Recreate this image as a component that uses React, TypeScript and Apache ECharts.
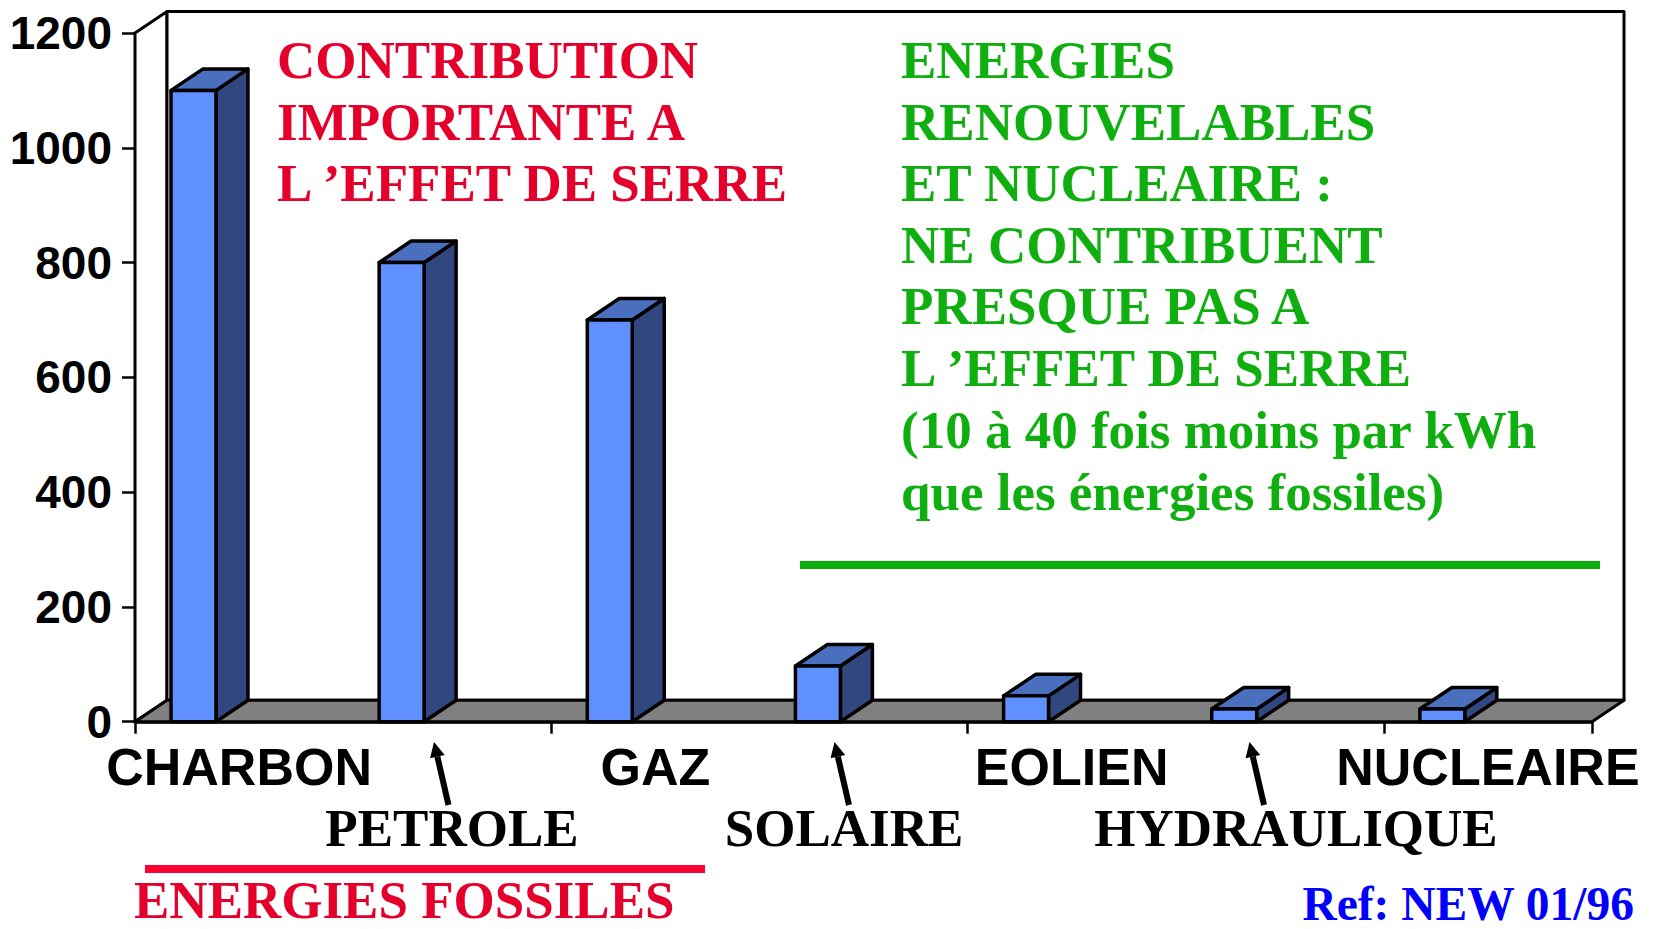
import React, { useEffect, useRef } from "react";
import * as echarts from "echarts";

const categories = ["CHARBON", "PETROLE", "GAZ", "SOLAIRE", "EOLIEN", "HYDRAULIQUE", "NUCLEAIRE"];
const values = [1100, 800, 700, 97, 45, 22, 22];
const redLines = ["CONTRIBUTION", "IMPORTANTE A", "L \u2019EFFET DE SERRE"];
const greenLines = [
  "ENERGIES",
  "RENOUVELABLES",
  "ET NUCLEAIRE :",
  "NE CONTRIBUENT",
  "PRESQUE PAS A",
  "L \u2019EFFET DE SERRE",
  "(10 \u00e0 40 fois moins par kWh",
  "que les \u00e9nergies fossiles)",
];
const greenLineY = [60, 122, 183, 245, 306, 368, 430, 492];
const redLineY = [60, 122, 183];
const lowerLabels = [
  { text: "PETROLE", x: 452 },
  { text: "SOLAIRE", x: 844 },
  { text: "HYDRAULIQUE", x: 1296 },
];
const arrows = [
  [448.5, 805, 434, 742],
  [849, 805, 834.5, 742],
  [1264, 805, 1249.5, 742],
];

const DX = 32;
const DY = -21.5;
const SERIF = '"Liberation Serif", serif';
const BLACK = "#000000";
const TOP_Z = 50;

function arrowShapes(a: number[]) {
  const [x0, y0, x1, y1] = a;
  const len = Math.hypot(x1 - x0, y1 - y0);
  const ux = (x1 - x0) / len;
  const uy = (y1 - y0) / len;
  const hl = 15;
  const hw = 7.5;
  const bx = x1 - ux * hl;
  const by = y1 - uy * hl;
  return [
    { type: "line", z: TOP_Z, shape: { x1: x0, y1: y0, x2: bx, y2: by }, style: { stroke: BLACK, lineWidth: 6 } },
    {
      type: "polygon",
      z: TOP_Z,
      shape: { points: [[x1, y1], [bx - uy * hw, by + ux * hw], [bx + uy * hw, by - ux * hw]] },
      style: { fill: BLACK },
    },
  ];
}

function serifText(text: string, x: number, y: number, size: number, fill: string, align = "left") {
  return {
    type: "text",
    z: TOP_Z,
    x,
    y,
    style: { text, fill, font: `bold ${size}px ${SERIF}`, align, verticalAlign: "middle", textAlign: align, textVerticalAlign: "middle" },
  };
}

export default function App() {
  const ref = useRef<HTMLDivElement>(null);
  useEffect(() => {
    const chart = echarts.init(ref.current!, undefined, { renderer: "svg" });
    const poly = (points: number[][], fill: string, lineWidth = 3.5) => ({
      type: "polygon",
      shape: { points },
      style: { fill, stroke: BLACK, lineWidth, lineJoin: "round" },
    });
    chart.setOption({
      animation: false,
      backgroundColor: "#ffffff",
      grid: { left: 135, right: 66, top: 33, bottom: 207.3, outerBoundsMode: "none" },
      xAxis: {
        type: "category",
        data: categories,
        axisLine: { lineStyle: { color: BLACK, width: 3.5 } },
        axisTick: { show: true, length: 12, alignWithLabel: false, lineStyle: { color: BLACK, width: 2.5 } },
        axisLabel: {
          interval: 1,
          margin: 19,
          color: BLACK,
          fontFamily: "Liberation Sans",
          fontWeight: "bold",
          fontSize: 52,
        },
        splitLine: { show: false },
      },
      yAxis: {
        type: "value",
        min: 0,
        max: 1200,
        interval: 200,
        axisLine: { show: true, lineStyle: { color: BLACK, width: 3 } },
        axisTick: { show: true, length: 13, lineStyle: { color: BLACK, width: 2.5 } },
        axisLabel: {
          margin: 23,
          color: BLACK,
          fontFamily: "Liberation Sans",
          fontWeight: "bold",
          fontSize: 46,
          formatter: (v: number) => String(v),
        },
        splitLine: { show: false },
      },
      series: [
        {
          type: "custom",
          name: "frame",
          silent: true,
          clip: false,
          z: 1,
          data: [[0, 0]],
          renderItem: (_p: any, api: any) => {
            const w = api.size([1, 0])[0];
            const o = api.coord([0, 0]);
            const t = api.coord([0, 1200]);
            const left = o[0] - w / 2;
            const right = left + w * categories.length;
            return {
              type: "group",
              children: [
                poly([[left, t[1]], [left + DX, t[1] + DY], [left + DX, o[1] + DY], [left, o[1]]], "#ffffff", 3),
                poly([[left + DX, t[1] + DY], [right + DX, t[1] + DY], [right + DX, o[1] + DY], [left + DX, o[1] + DY]], "#ffffff", 3),
                poly([[left, o[1]], [left + DX, o[1] + DY], [right + DX, o[1] + DY], [right, o[1]]], "#808080", 3),
              ],
            };
          },
        },
        {
          type: "custom",
          name: "values",
          clip: false,
          z: 3,
          encode: { x: 0, y: 1 },
          data: values.map((v, i) => [i, v]),
          renderItem: (_p: any, api: any) => {
            const w = api.size([1, 0])[0];
            const c = api.coord([api.value(0), api.value(1)]);
            const b = api.coord([api.value(0), 0]);
            const bw = w * 0.216;
            const x0 = c[0] - w * 0.219 - bw / 2;
            const x1 = x0 + bw;
            return {
              type: "group",
              children: [
                poly([[x1, c[1]], [x1 + DX, c[1] + DY], [x1 + DX, b[1] + DY], [x1, b[1]]], "#30487F"),
                poly([[x0, c[1]], [x0 + DX, c[1] + DY], [x1 + DX, c[1] + DY], [x1, c[1]]], "#4A6FBF"),
                poly([[x0, c[1]], [x1, c[1]], [x1, b[1]], [x0, b[1]]], "#6090FF"),
              ],
            };
          },
        },
      ],
      graphic: [
        ...redLines.map((t, i) => serifText(t, 277, redLineY[i], 53, "#E4002B")),
        ...greenLines.map((t, i) => serifText(t, 901, greenLineY[i], 53, "#0FAF0F")),
        ...lowerLabels.map((l) => serifText(l.text, l.x, 828, 53, BLACK, "center")),
        serifText("ENERGIES FOSSILES", 134, 900, 53, "#E4002B"),
        serifText("Ref: NEW 01/96", 1634, 904, 47.5, "#0000FF", "right"),
        { type: "rect", z: TOP_Z, shape: { x: 145, y: 865, width: 560, height: 8 }, style: { fill: "#FF0033" } },
        { type: "rect", z: TOP_Z, shape: { x: 800, y: 561, width: 800, height: 8 }, style: { fill: "#0BAF0B" } },
        ...arrows.flatMap(arrowShapes),
      ],
    });
    return () => chart.dispose();
  }, []);
  return <div ref={ref} style={{ position: "fixed", left: 0, top: 0, width: 1658, height: 929 }} />;
}
